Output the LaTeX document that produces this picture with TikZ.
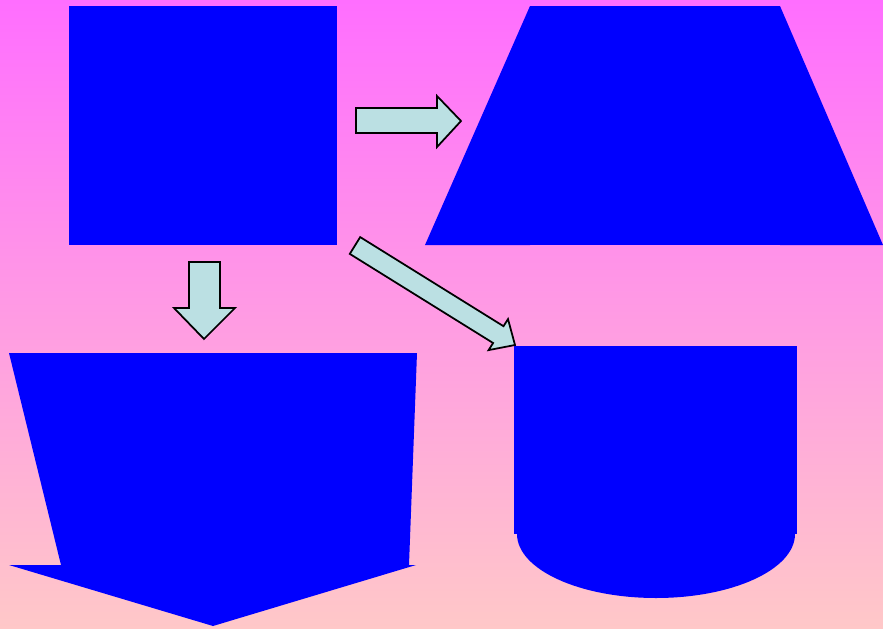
\documentclass[tikz,border=0pt]{standalone}
\definecolor{bgtop}{RGB}{255,110,255}
\definecolor{bgbottom}{RGB}{255,200,200}
\definecolor{arrowfill}{RGB}{187,224,227}
\begin{document}
\begin{tikzpicture}[x=0.02cm,y=-0.02cm,
    blueshape/.style={fill=blue},
    blockarrow/.style={draw=black,fill=arrowfill,line width=1pt,line join=miter}]
                % background
                \shade[top color=bgtop,bottom color=bgbottom] (0,0) rectangle (883,629);

                % square
                \fill[blueshape] (69,6) rectangle (337,245);

                % top right trapezoid
                \coordinate (TrapLeftBottom) at (425,245);
                \coordinate (TrapLeftTop) at (530,6);
                \coordinate (TrapRightTop) at (780,6);
                \coordinate (TrapRightBottom) at (883,245);
                \fill[blueshape] (TrapLeftBottom)--(TrapLeftTop)--(530,245)--cycle;
                \fill[blueshape] (TrapLeftTop) rectangle (780,245);
                \fill[blueshape] (TrapRightTop)--(TrapRightBottom)--(780,245)--cycle;

                % bottom left shape
                \fill[blueshape] (9,353)--(417,353)--(409,565)--(61,565)--cycle;
                \fill[blueshape] (9,565)--(416,565)--(213,626)--cycle;

                % bottom right shape
                \fill[blueshape] (514,346) rectangle (797,534);
                \fill[blueshape] (517,534) arc[start angle=180,end angle=0,x radius=139,y radius=64]--cycle;

                % arrows
                \draw[blockarrow] (356,108)--(437,108)--(437,96)--(461,121)--(437,147)--(437,133)--(356,133)--cycle;
                \draw[blockarrow] (189,262)--(220,262)--(220,308)--(235,308)--(204,339)--(174,308)--(189,308)--cycle;
                \draw[blockarrow] (349.8,253.9)--(360.2,237.1)--(503.5,326.2)--(508,319.1)--(515,345)--(488.6,350.1)--(493.1,343)--cycle;
            \end{tikzpicture}
\end{document}
